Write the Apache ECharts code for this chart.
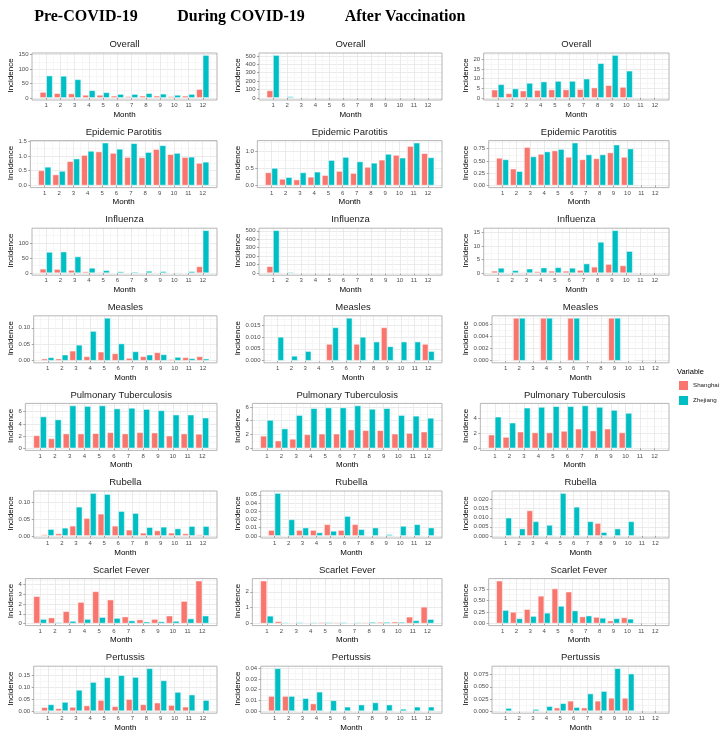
<!DOCTYPE html>
<html><head><meta charset="utf-8">
<script src="https://cdn.jsdelivr.net/npm/echarts@6/dist/echarts.min.js"></script>
<style>html,body{margin:0;padding:0;background:#fff}#c{width:726px;height:739px}</style>
</head><body><div id="c"></div>
<script>
const months = [1,2,3,4,5,6,7,8,9,10,11,12];
const periods = ['Pre-COVID-19','During COVID-19','After Vaccination'];
const diseases = ['Overall','Epidemic Parotitis','Influenza','Measles','Pulmonary Tuberculosis','Rubella','Scarlet Fever','Pertussis'];
const regions = ['Shanghai','Zhejiang'];

// ---- Pre-COVID-19 ----
const pre_overall_sh   = [20, 16, 15, 10, 10, 7, 5, 7, 7, 5, 7, 30];
const pre_overall_zj   = [77, 76, 64, 26, 19, 13, 13, 16, 14, 10, 13, 148];
const pre_parotitis_sh = [0.51, 0.37, 0.82, 1.03, 1.15, 1.10, 0.96, 0.95, 1.23, 1.06, 0.96, 0.76];
const pre_parotitis_zj = [0.63, 0.49, 0.91, 1.17, 1.45, 1.24, 1.43, 1.13, 1.36, 1.10, 0.97, 0.80];
const pre_influenza_sh = [14, 13, 10, 5, 3, 1, 1, 1.5, 2, 0.5, 1, 22];
const pre_influenza_zj = [70, 71, 55, 17, 9, 5, 4, 7, 6, 2, 6, 142];
const pre_measles_sh   = [0.006, 0.006, 0.030, 0.013, 0.027, 0.022, 0.008, 0.013, 0.025, 0.004, 0.010, 0.013];
const pre_measles_zj   = [0.010, 0.018, 0.048, 0.090, 0.130, 0.052, 0.028, 0.018, 0.019, 0.011, 0.007, 0.006];
const pre_tb_sh        = [2.1, 1.6, 2.4, 2.4, 2.45, 2.6, 2.4, 2.6, 2.55, 2.05, 2.4, 2.35];
const pre_tb_zj        = [5.2, 4.7, 7.0, 6.9, 7.0, 6.5, 6.6, 6.4, 6.2, 5.5, 5.5, 5.0];
const pre_rubella_sh   = [0.004, 0.007, 0.030, 0.053, 0.066, 0.030, 0.018, 0.009, 0.016, 0.009, 0.007, 0.004];
const pre_rubella_zj   = [0.020, 0.024, 0.087, 0.128, 0.125, 0.074, 0.068, 0.026, 0.027, 0.022, 0.029, 0.029];
const pre_scarlet_sh   = [2.8, 0.6, 1.25, 2.2, 3.3, 2.45, 0.7, 0.4, 0.45, 0.8, 2.3, 4.4];
const pre_scarlet_zj   = [0.45, 0.12, 0.25, 0.45, 0.65, 0.55, 0.3, 0.18, 0.2, 0.25, 0.5, 0.8];
const pre_pertussis_sh = [0.016, 0.011, 0.017, 0.023, 0.046, 0.020, 0.050, 0.028, 0.035, 0.025, 0.018, 0.002];
const pre_pertussis_zj = [0.028, 0.038, 0.089, 0.122, 0.142, 0.151, 0.143, 0.180, 0.129, 0.080, 0.069, 0.046];

// ---- During COVID-19 ----
const dur_overall_sh   = [88, 3.5, 2.2, 2.3, 2.5, 2.6, 3.1, 3.2, 3.5, 3.1, 3.8, 4.5];
const dur_overall_zj   = [510, 17, 8, 6.2, 6.7, 6.8, 7.0, 6.4, 6.8, 5.7, 6.2, 5.5];
const dur_parotitis_sh = [0.38, 0.19, 0.17, 0.25, 0.30, 0.42, 0.36, 0.54, 0.75, 0.89, 1.15, 0.94];
const dur_parotitis_zj = [0.51, 0.24, 0.38, 0.40, 0.74, 0.83, 0.70, 0.66, 0.92, 0.81, 1.25, 0.82];
const dur_influenza_sh = [80, 3, 0.5, 0.1, 0.1, 0.1, 0.05, 0.05, 0.05, 0.05, 0.1, 0.3];
const dur_influenza_zj = [505, 12, 3, 0.4, 0.2, 0.1, 0.1, 0.1, 0.1, 0.1, 0.3, 0.5];
const dur_measles_sh   = [0, 0, 0, 0, 0.007, 0, 0.007, 0, 0.014, 0, 0, 0.007];
const dur_measles_zj   = [0.010, 0.002, 0.004, 0, 0.014, 0.018, 0.010, 0.008, 0.006, 0.008, 0.008, 0.004];
const dur_tb_sh        = [1.8, 1.1, 1.35, 2.0, 2.1, 2.1, 2.7, 2.6, 2.6, 2.1, 2.2, 2.4];
const dur_tb_zj        = [4.1, 2.85, 4.8, 5.8, 5.9, 5.9, 6.2, 5.7, 5.8, 4.8, 4.7, 4.4];
const dur_rubella_sh   = [0.007, 0, 0.007, 0.007, 0.014, 0.007, 0.014, 0, 0, 0, 0, 0];
const dur_rubella_zj   = [0.052, 0.020, 0.010, 0.004, 0.006, 0.024, 0.008, 0.010, 0.002, 0.012, 0.014, 0.010];
const dur_scarlet_sh   = [2.7, 0.13, 0.04, 0.04, 0.07, 0.06, 0.04, 0.06, 0.09, 0.11, 0.42, 1.05];
const dur_scarlet_zj   = [0.48, 0.06, 0.07, 0.06, 0.07, 0.07, 0.06, 0.09, 0.09, 0.09, 0.19, 0.27];
const dur_pertussis_sh = [0.014, 0.014, 0, 0.007, 0, 0, 0, 0, 0, 0, 0, 0];
const dur_pertussis_zj = [0.040, 0.014, 0.012, 0.018, 0.010, 0.004, 0.006, 0.008, 0.006, 0.002, 0.004, 0.004];

// ---- After Vaccination (January - October) ----
const aft_overall_sh   = [4.2, 2.3, 3.7, 4.0, 4.3, 4.3, 4.5, 5.3, 6.5, 5.6];
const aft_overall_zj   = [7.0, 4.8, 7.7, 8.4, 8.7, 8.7, 9.9, 17.9, 22.1, 14.0];
const aft_parotitis_sh = [0.56, 0.34, 0.78, 0.64, 0.71, 0.58, 0.53, 0.55, 0.67, 0.58];
const aft_parotitis_zj = [0.53, 0.29, 0.59, 0.69, 0.74, 0.87, 0.63, 0.63, 0.83, 0.75];
const aft_influenza_sh = [0.8, 0.2, 0.3, 0.6, 0.8, 0.8, 1.1, 2.3, 3.3, 2.8];
const aft_influenza_zj = [1.9, 1.0, 1.6, 2.0, 2.1, 1.9, 3.5, 11.5, 15.8, 8.1];
const aft_measles_sh   = [0, 0.007, 0, 0.007, 0, 0.007, 0, 0, 0.007, 0];
const aft_measles_zj   = [0, 0.007, 0, 0.007, 0, 0.007, 0, 0, 0.007, 0];
const aft_tb_sh        = [1.8, 1.5, 2.2, 2.1, 2.1, 2.3, 2.6, 2.35, 2.6, 2.1];
const aft_tb_zj        = [4.2, 3.4, 5.4, 5.5, 5.6, 5.6, 5.7, 5.5, 5.1, 4.7];
const aft_rubella_sh   = [0, 0, 0.014, 0, 0, 0, 0, 0.007, 0, 0];
const aft_rubella_zj   = [0.010, 0.004, 0.008, 0.006, 0.0236, 0.016, 0.008, 0.002, 0.004, 0.008];
const aft_scarlet_sh   = [0.93, 0.25, 0.31, 0.60, 0.76, 0.69, 0.15, 0.14, 0.06, 0.13];
const aft_scarlet_zj   = [0.29, 0.11, 0.16, 0.23, 0.38, 0.28, 0.17, 0.12, 0.11, 0.10];
const aft_pertussis_sh = [0, 0, 0, 0, 0.007, 0.021, 0.007, 0.021, 0.027, 0.027];
const aft_pertussis_zj = [0.006, 0, 0.004, 0.010, 0.016, 0.008, 0.036, 0.041, 0.088, 0.077];

// y-axis tick steps (one per disease row)
const preSteps = [50, 0.5, 50, 0.05, 2, 0.05, 1, 0.05];
const durSteps = [100, 0.5, 100, 0.005, 2, 0.01, 1, 0.01];
const aftSteps = [5, 0.25, 5, 0.002, 2, 0.005, 0.25, 0.025];

const table = [
  [[pre_overall_sh, pre_overall_zj], [pre_parotitis_sh, pre_parotitis_zj], [pre_influenza_sh, pre_influenza_zj], [pre_measles_sh, pre_measles_zj],
   [pre_tb_sh, pre_tb_zj], [pre_rubella_sh, pre_rubella_zj], [pre_scarlet_sh, pre_scarlet_zj], [pre_pertussis_sh, pre_pertussis_zj]],
  [[dur_overall_sh, dur_overall_zj], [dur_parotitis_sh, dur_parotitis_zj], [dur_influenza_sh, dur_influenza_zj], [dur_measles_sh, dur_measles_zj],
   [dur_tb_sh, dur_tb_zj], [dur_rubella_sh, dur_rubella_zj], [dur_scarlet_sh, dur_scarlet_zj], [dur_pertussis_sh, dur_pertussis_zj]],
  [[aft_overall_sh, aft_overall_zj], [aft_parotitis_sh, aft_parotitis_zj], [aft_influenza_sh, aft_influenza_zj], [aft_measles_sh, aft_measles_zj],
   [aft_tb_sh, aft_tb_zj], [aft_rubella_sh, aft_rubella_zj], [aft_scarlet_sh, aft_scarlet_zj], [aft_pertussis_sh, aft_pertussis_zj]]
];
const steps = [preSteps, durSteps, aftSteps];
const colors = ['#F8766D', '#00BFC4'];

const FONT = '"Liberation Sans", Arial, sans-serif';
const SERIF = '"Liberation Serif", "Times New Roman", serif';
const mctx = document.createElement('canvas').getContext('2d');
function textW(s, size, weight, fam) {
  mctx.font = (weight || 'normal') + ' ' + size + 'px ' + (fam || FONT);
  return mctx.measureText(s).width;
}

const colBase = [11, 238, 466];
const colRight = [217, 442, 669];
const colTitleX = [86, 241, 405];
const ROW0 = 53, ROWSTEP = 87.6, PH = 47;
const TICK_FS = 6, FACET_FS = 9.5, AXT_FS = 8, COLT_FS = 16;

const grids = [], xAxes = [], yAxes = [], series = [], titles = [], graphics = [];
let gi = 0;
periods.forEach((p, c) => {
  const tw = textW(p, COLT_FS, 'bold', SERIF);
  titles.push({
    text: p, left: colTitleX[c] - tw / 2, top: 8.5, padding: 0,
    textStyle: { fontFamily: SERIF, fontWeight: 'bold', fontSize: COLT_FS, color: '#000' }
  });
  diseases.forEach((d, r) => {
    const [sh, zj] = table[c][r];
    const vals = sh.concat(zj).filter(v => v != null);
    const top = Math.max(...vals) * 1.05;
    const step = steps[c][r];
    const dec = (String(step).split('.')[1] || '').length;
    const ticks = [];
    for (let k = 0; k * step <= top * (1 + 1e-9); k++) ticks.push(+(k * step).toFixed(dec + 3));
    const labels = ticks.map(v => v.toFixed(dec));
    const lw = Math.max(...labels.map(s => textW(s, TICK_FS)));
    const left = colBase[c] + 11 + lw;
    const right = colRight[c];
    const pTop = ROW0 + r * ROWSTEP;
    const gH = PH * 1.05 / 1.1;
    const off = PH - gH;

    grids.push({ left: left, top: pTop, width: right - left, height: gH, containLabel: false, outerBoundsMode: 'none' });
    xAxes.push({
      type: 'value', gridIndex: gi, min: 0, max: 13, interval: 1, offset: off,
      name: 'Month', nameLocation: 'middle', nameGap: 10.5,
      nameTextStyle: { fontFamily: FONT, fontSize: AXT_FS, color: '#000' },
      axisLine: { show: false },
      axisTick: { show: true, length: 2, customValues: months, lineStyle: { color: '#666', width: 0.6 } },
      axisLabel: { customValues: months, fontFamily: FONT, fontSize: TICK_FS, color: '#4D4D4D', margin: 2.5, formatter: v => String(v) },
      splitLine: { show: true, lineStyle: { color: '#E6E6E6', width: 0.8 } },
      minorTick: { show: false, splitNumber: 2 },
      minorSplitLine: { show: true, lineStyle: { color: '#F2F2F2', width: 0.6 } }
    });
    yAxes.push({
      type: 'value', gridIndex: gi, min: 0, max: top, interval: step,
      name: 'Incidence', nameLocation: 'middle', nameGap: left - colBase[c] - 4.5,
      nameTextStyle: { fontFamily: FONT, fontSize: AXT_FS, color: '#000' },
      axisLine: { show: false },
      axisTick: { show: true, length: 2, customValues: ticks, lineStyle: { color: '#666', width: 0.6 } },
      axisLabel: { customValues: ticks, fontFamily: FONT, fontSize: TICK_FS, color: '#4D4D4D', margin: 3.5, formatter: v => (+v).toFixed(dec) },
      splitLine: { show: true, lineStyle: { color: '#E6E6E6', width: 0.8 } },
      minorTick: { show: false, splitNumber: 2 },
      minorSplitLine: { show: true, lineStyle: { color: '#F2F2F2', width: 0.6 } }
    });
    [sh, zj].forEach((arr, s) => {
      series.push({
        type: 'bar', name: regions[s], xAxisIndex: gi, yAxisIndex: gi,
        data: months.map((m, k) => [m, arr[k] == null ? null : arr[k]]),
        barGap: '0%', barCategoryGap: '10%',
        itemStyle: { color: colors[s], borderColor: '#fff', borderWidth: 0.5 },
        silent: true, animation: false
      });
    });
    const fw = textW(d, FACET_FS);
    titles.push({
      text: d, left: (left + right) / 2 - fw / 2, top: pTop - 13.5, padding: 0,
      textStyle: { fontFamily: FONT, fontWeight: 'normal', fontSize: FACET_FS, color: '#1A1A1A' }
    });
    graphics.push({
      type: 'rect', silent: true, z: 100,
      shape: { x: left, y: pTop, width: right - left, height: PH },
      style: { fill: 'none', stroke: '#A3A3A3', lineWidth: 0.8 }
    });
    gi++;
  });
});

titles.push({
  text: 'Variable', left: 677, top: 368, padding: 0,
  textStyle: { fontFamily: FONT, fontWeight: 'normal', fontSize: 7.5, color: '#000' }
});

const chart = echarts.init(document.getElementById('c'), null, { renderer: 'canvas', width: 726, height: 739 });
chart.setOption({
  backgroundColor: '#fff',
  animation: false,
  textStyle: { fontFamily: FONT },
  title: titles,
  legend: {
    data: regions, orient: 'vertical', left: 677, top: 379, padding: 0,
    itemWidth: 11, itemHeight: 11, itemGap: 2, icon: 'rect', selectedMode: false,
    textStyle: { fontFamily: FONT, fontSize: 6.2, color: '#1A1A1A', padding: [0, 0, 0, -1] }
  },
  grid: grids, xAxis: xAxes, yAxis: yAxes, series: series,
  graphic: graphics
});
</script>
</body></html>
